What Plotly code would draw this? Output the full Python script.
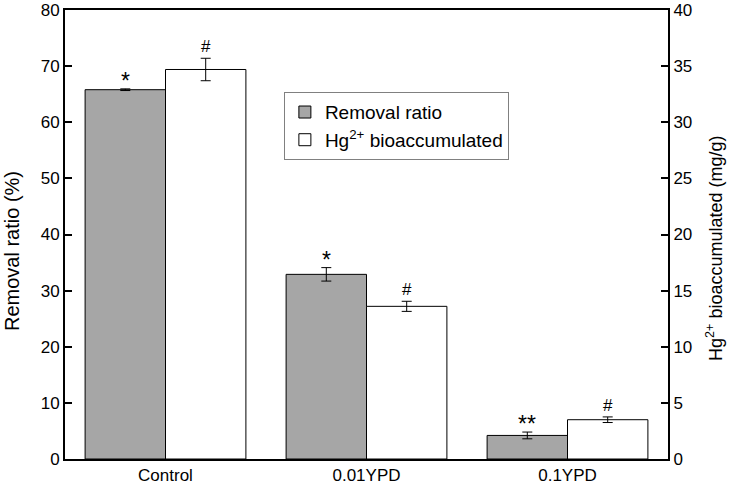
import plotly.graph_objects as go

categories = ["Control", "0.01YPD", "0.1YPD"]
removal_ratio = [65.8, 32.9, 4.2]
removal_err = [0.15, 1.2, 0.6]
hg_accum = [34.7, 13.6, 3.5]
hg_err = [1.0, 0.45, 0.25]
removal_marks = ["*", "*", "**"]
hg_marks = ["#", "#", "#"]
left_title = "Removal ratio (%)"
right_title = "Hg<sup>2+</sup> bioaccumulated (mg/g)"

FONT = "Liberation Sans, Arial, sans-serif"

fig = go.Figure()
fig.add_trace(go.Bar(
    x=categories, y=removal_ratio, name="Removal ratio",
    marker=dict(color="#a6a6a6", line=dict(color="black", width=1)),
    error_y=dict(type="data", array=removal_err, color="black", thickness=1, width=5),
    width=0.4, offset=-0.4, yaxis="y",
))
fig.add_trace(go.Bar(
    x=categories, y=hg_accum, name="Hg<sup>2+</sup> bioaccumulated",
    marker=dict(color="white", line=dict(color="black", width=1)),
    error_y=dict(type="data", array=hg_err, color="black", thickness=1, width=5),
    width=0.4, offset=0.0, yaxis="y2",
))

ann = []
for i, (v, e, m) in enumerate(zip(removal_ratio, removal_err, removal_marks)):
    ann.append(dict(x=i - 0.2, y=v + e, xref="x", yref="y", text=m, showarrow=False,
                    yanchor="bottom", yshift=-7, font=dict(size=23, color="black", family=FONT)))
for i, (v, e, m) in enumerate(zip(hg_accum, hg_err, hg_marks)):
    ann.append(dict(x=i + 0.2, y=v + e, xref="x", yref="y2", text=m, showarrow=False,
                    yanchor="bottom", yshift=0, font=dict(size=17, color="black", family=FONT)))
ann.append(dict(x=-0.088, y=0.463, xref="paper", yref="paper", text=left_title,
                textangle=-90, showarrow=False, xanchor="center", yanchor="middle",
                font=dict(size=20, color="black", family=FONT)))
ann.append(dict(x=1.078, y=0.468, xref="paper", yref="paper", text=right_title,
                textangle=-90, showarrow=False, xanchor="center", yanchor="middle",
                font=dict(size=18, color="black", family=FONT)))

fig.update_layout(
    width=733, height=484,
    margin=dict(l=65, r=65, t=10, b=25),
    paper_bgcolor="white", plot_bgcolor="white",
    font=dict(family=FONT, size=17, color="black"),
    barmode="overlay",
    showlegend=True,
    legend=dict(x=0.363, y=0.817, xanchor="left", yanchor="top",
                bordercolor="#808080", borderwidth=1, bgcolor="white",
                font=dict(size=19, family=FONT), tracegroupgap=0),
    xaxis=dict(range=[-0.5, 2.5], showline=True, linecolor="black", linewidth=2,
               mirror=True, ticks="", showgrid=False, zeroline=False, automargin=False,
               tickfont=dict(size=17)),
    yaxis=dict(range=[0, 80], dtick=10, showline=True, linecolor="black", linewidth=2,
               ticks="inside", ticklen=7, tickwidth=2, tickcolor="black",
               showgrid=False, zeroline=False, automargin=False,
               tickfont=dict(size=17)),
    yaxis2=dict(range=[0, 40], dtick=5, overlaying="y", side="right", showline=True,
                linecolor="black", linewidth=2, ticks="inside", ticklen=7, tickwidth=2,
                tickcolor="black", showgrid=False, zeroline=False, automargin=False,
                tickfont=dict(size=17)),
    annotations=ann,
)

fig.write_html(
    "out.html",
    config={"displayModeBar": False},
    post_script="document.body.style.margin='0';document.body.style.padding='0';",
)
